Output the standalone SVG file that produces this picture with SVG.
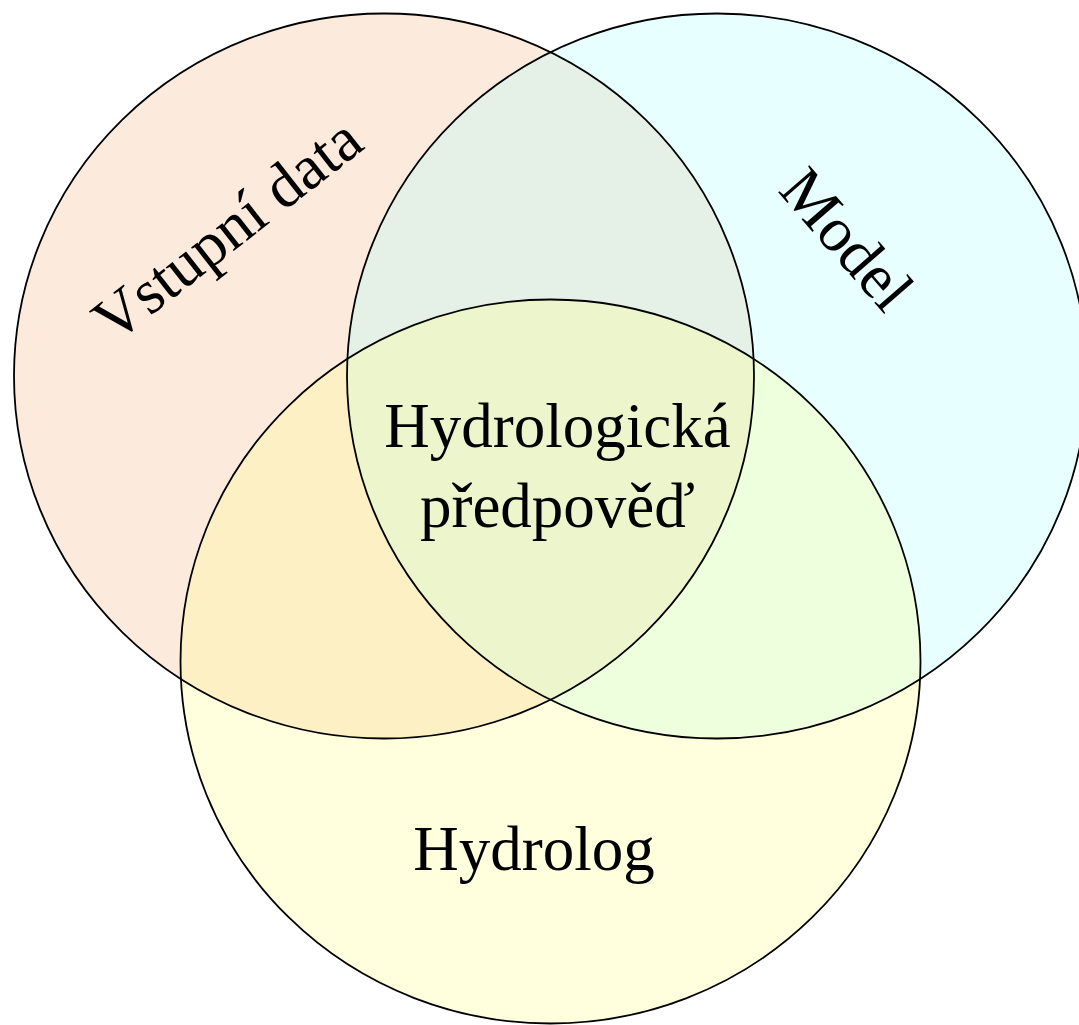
<svg xmlns="http://www.w3.org/2000/svg" width="1079" height="1025" viewBox="0 0 1079 1025">
<style>
.lbl{font-family:"Liberation Serif","Times New Roman",serif;font-size:63px;fill:#000;text-anchor:middle}
.ring{fill:none;stroke:#000;stroke-width:1.8}
</style>
<rect width="1079" height="1025" fill="#ffffff"/>
<g id="fills">
<ellipse cx="384" cy="376" rx="370" ry="362.5" fill="#f7c59f" fill-opacity="0.35"/>
<ellipse cx="717" cy="376" rx="370" ry="362.5" fill="#b0ffff" fill-opacity="0.3"/>
<ellipse cx="550.5" cy="661.5" rx="370" ry="362" fill="#ffff80" fill-opacity="0.27"/>
</g>
<g id="vstupni-data">
<ellipse class="ring" cx="384" cy="376" rx="370" ry="362.5"/>
<text class="lbl" transform="translate(240,246) rotate(-38)">Vstupní data</text>
</g>
<g id="model">
<ellipse class="ring" cx="717" cy="376" rx="370" ry="362.5"/>
<text class="lbl" transform="translate(831,253) rotate(49)">Model</text>
</g>
<g id="hydrolog">
<ellipse class="ring" cx="550.5" cy="661.5" rx="370" ry="362"/>
<text class="lbl" x="534" y="870">Hydrolog</text>
</g>
<g id="hydrologicka-predpoved">
<text class="lbl" x="557.5" y="447">Hydrologická</text>
<text class="lbl" x="557.5" y="527">předpověď</text>
</g>
</svg>
